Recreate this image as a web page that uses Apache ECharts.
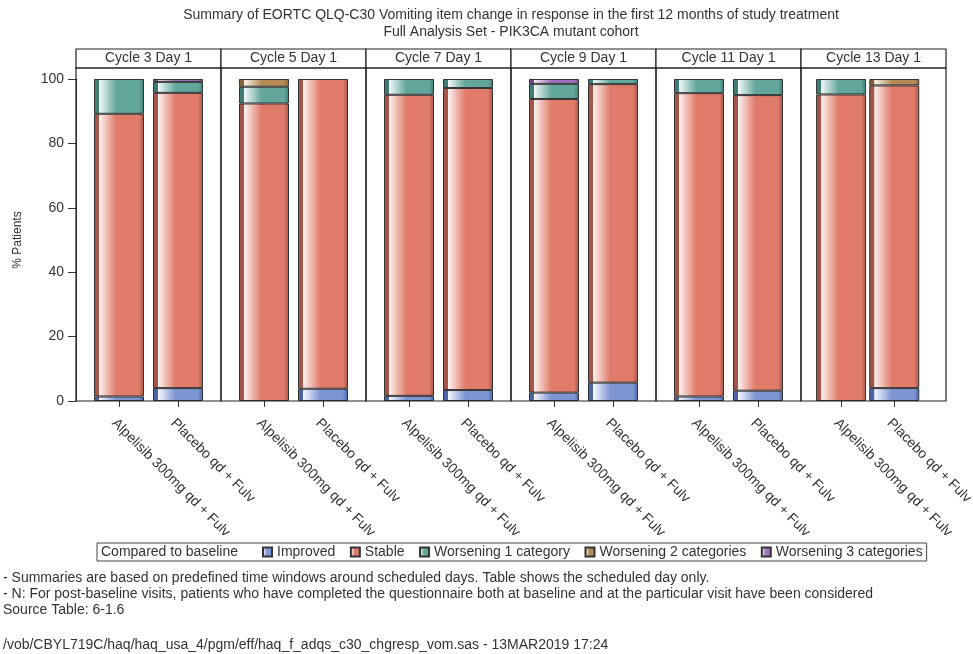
<!DOCTYPE html>
<html>
<head>
<meta charset="utf-8">
<script src="https://cdn.jsdelivr.net/npm/echarts@6/dist/echarts.min.js"></script>
<style>
  html, body { margin: 0; padding: 0; background: #fff; }
  #chart { width: 973px; height: 654px; }
</style>
</head>
<body>
<div id="chart"></div>
<script>
// Visits (one panel each) and treatment arms (two bars per panel)
const cycles = ['Cycle 3 Day 1', 'Cycle 5 Day 1', 'Cycle 7 Day 1', 'Cycle 9 Day 1', 'Cycle 11 Day 1', 'Cycle 13 Day 1'];
const arms = ['Alpelisib 300mg qd + Fulv', 'Placebo qd + Fulv'];

// % patients per response category, listed panel by panel: [Alpelisib, Placebo] for each visit
const improved = [1.4, 4.0, 0, 3.8, 1.6, 3.4, 2.6, 5.7, 1.4, 3.2, 0, 4.0];
const stable   = [87.8, 91.7, 92.4, 96.2, 93.5, 93.8, 91.2, 92.7, 94.2, 91.8, 95.2, 94.0];
const worse1   = [10.8, 3.4, 5.2, 0, 4.9, 2.8, 4.7, 1.6, 4.4, 5.0, 4.8, 0];
const worse2   = [0, 0, 2.4, 0, 0, 0, 0, 0, 0, 0, 0, 2.0];
const worse3   = [0, 0.9, 0, 0, 0, 0, 1.5, 0, 0, 0, 0, 0];

const yTicks = { min: 0, max: 100, interval: 20 };

const categoryNames = ['Improved', 'Stable', 'Worsening 1 category', 'Worsening 2 categories', 'Worsening 3 categories'];
const categoryValues = [improved, stable, worse1, worse2, worse3];

const titleLines = [
  'Summary of EORTC QLQ-C30 Vomiting item change in response in the first 12 months of study treatment',
  'Full Analysis Set - PIK3CA mutant cohort'
];
const footnotes = [
  '- Summaries are based on predefined time windows around scheduled days. Table shows the scheduled day only.',
  '- N: For post-baseline visits, patients who have completed the questionnaire both at baseline and at the particular visit have been considered',
  'Source Table: 6-1.6'
];
const programLine = '/vob/CBYL719C/haq/haq_usa_4/pgm/eff/haq_f_adqs_c30_chgresp_vom.sas - 13MAR2019 17:24';

// Layout
const FONT = 'Liberation Sans, Arial, sans-serif';
const FS = 14;
const PANEL_X0 = 76, PANEL_W = 145, INSET = 13.5;
const HEAD_TOP = 49, HEAD_H = 19;
const PLOT_TOP = HEAD_TOP + HEAD_H, PLOT_BOTTOM = 401;
const DATA_TOP = 79;
const BAR_W = 50;

// Fill style: dark left edge, bright highlight, then base colour (shaded bar look)
const palette = [
  { base: '#7d95d3', dark: '#4d64a3', light: '#f4f6fc' },
  { base: '#e07a69', dark: '#a3574a', light: '#fbf0ed' },
  { base: '#62a69c', dark: '#3f7d74', light: '#f0f7f6' },
  { base: '#b68b58', dark: '#87643a', light: '#faf4ec' },
  { base: '#a071c0', dark: '#6f4a8e', light: '#f7f1fb' }
];
function shade(p) {
  return new echarts.graphic.LinearGradient(0, 0, 1, 0, [
    { offset: 0, color: p.dark },
    { offset: 0.09, color: p.dark },
    { offset: 0.11, color: p.light },
    { offset: 0.45, color: p.base },
    { offset: 0.9, color: p.base },
    { offset: 1, color: p.dark }
  ]);
}

const grids = [], xAxes = [], yAxes = [], series = [], graphics = [];
cycles.forEach((cyc, i) => {
  const px = PANEL_X0 + i * PANEL_W;
  grids.push({ left: px + INSET, top: DATA_TOP, width: PANEL_W - 2 * INSET, height: PLOT_BOTTOM - DATA_TOP, containLabel: false });
  xAxes.push({
    type: 'category', gridIndex: i, data: arms,
    axisLine: { show: false },
    axisTick: { show: true, alignWithLabel: true, length: 6, lineStyle: { color: '#333' } },
    axisLabel: { rotate: -45, margin: 15, verticalAlign: 'top', fontFamily: FONT, fontSize: FS, color: '#333' }
  });
  yAxes.push(i === 0 ? {
    type: 'value', gridIndex: i, min: yTicks.min, max: yTicks.max, interval: yTicks.interval,
    offset: INSET,
    name: '% Patients', nameLocation: 'middle', nameGap: 52,
    nameTextStyle: { fontFamily: FONT, fontSize: 12, color: '#333' },
    axisLine: { show: true, lineStyle: { color: '#333' } },
    axisTick: { show: true, length: 8, lineStyle: { color: '#333' } },
    axisLabel: { margin: 12, fontFamily: FONT, fontSize: FS, color: '#333' },
    splitLine: { show: false }
  } : {
    type: 'value', gridIndex: i, min: yTicks.min, max: yTicks.max, interval: yTicks.interval, show: false,
    splitLine: { show: false }
  });
  categoryNames.forEach((name, k) => {
    const vals = categoryValues[k].slice(i * 2, i * 2 + 2).map(v => (v > 0 ? v : '-'));
    series.push({
      type: 'bar', name, xAxisIndex: i, yAxisIndex: i, stack: 'visit' + i,
      barWidth: BAR_W, data: vals,
      itemStyle: { color: shade(palette[k]), borderColor: '#333', borderWidth: 1 },
      emphasis: { disabled: true }, animation: false
    });
  });
  // Panel header and frame
  graphics.push({
    type: 'rect', shape: { x: px, y: HEAD_TOP, width: PANEL_W, height: HEAD_H },
    style: { fill: '#fff', stroke: '#222', lineWidth: 1.2 }, z: 10
  });
  graphics.push({
    type: 'text', x: px + PANEL_W / 2, y: HEAD_TOP + HEAD_H / 2,
    style: { text: cyc, fill: '#333', font: FS + 'px ' + FONT, textAlign: 'center', textVerticalAlign: 'middle' }, z: 11
  });
  graphics.push({
    type: 'rect', shape: { x: px, y: PLOT_TOP, width: PANEL_W, height: PLOT_BOTTOM - PLOT_TOP },
    style: { fill: 'none', stroke: '#222', lineWidth: 1.2 }, z: 10
  });
});

// Title lines
titleLines.forEach((t, j) => {
  graphics.push({
    type: 'text', x: (PANEL_X0 + PANEL_X0 + 6 * PANEL_W) / 2, y: 15 + j * 17,
    style: { text: t, fill: '#333', font: FS + 'px ' + FONT, textAlign: 'center', textVerticalAlign: 'middle' }
  });
});

// Legend title
graphics.push({
  type: 'text', x: 101, y: 552,
  style: { text: 'Compared to baseline', fill: '#333', font: FS + 'px ' + FONT, textVerticalAlign: 'middle' }, z: 20
});

// Footnotes
footnotes.forEach((t, j) => {
  graphics.push({
    type: 'text', x: 3, y: 578 + j * 16,
    style: { text: t, fill: '#333', font: FS + 'px ' + FONT, textVerticalAlign: 'middle' }
  });
});
graphics.push({
  type: 'text', x: 3, y: 645,
  style: { text: programLine, fill: '#333', font: FS + 'px ' + FONT, textVerticalAlign: 'middle' }
});

const chart = echarts.init(document.getElementById('chart'), null, { renderer: 'canvas' });
chart.setOption({
  backgroundColor: '#fff',
  animation: false,
  grid: grids,
  xAxis: xAxes,
  yAxis: yAxes,
  series,
  legend: {
    data: categoryNames,
    left: 97, top: 543,
    padding: [2, 4, 2, 165],
    itemWidth: 9, itemHeight: 9, itemGap: 14.5,
    icon: 'rect',
    borderColor: '#444', borderWidth: 1,
    selectedMode: false,
    textStyle: { fontFamily: FONT, fontSize: FS, color: '#333' }
  },
  graphic: graphics
});
</script>
</body>
</html>
